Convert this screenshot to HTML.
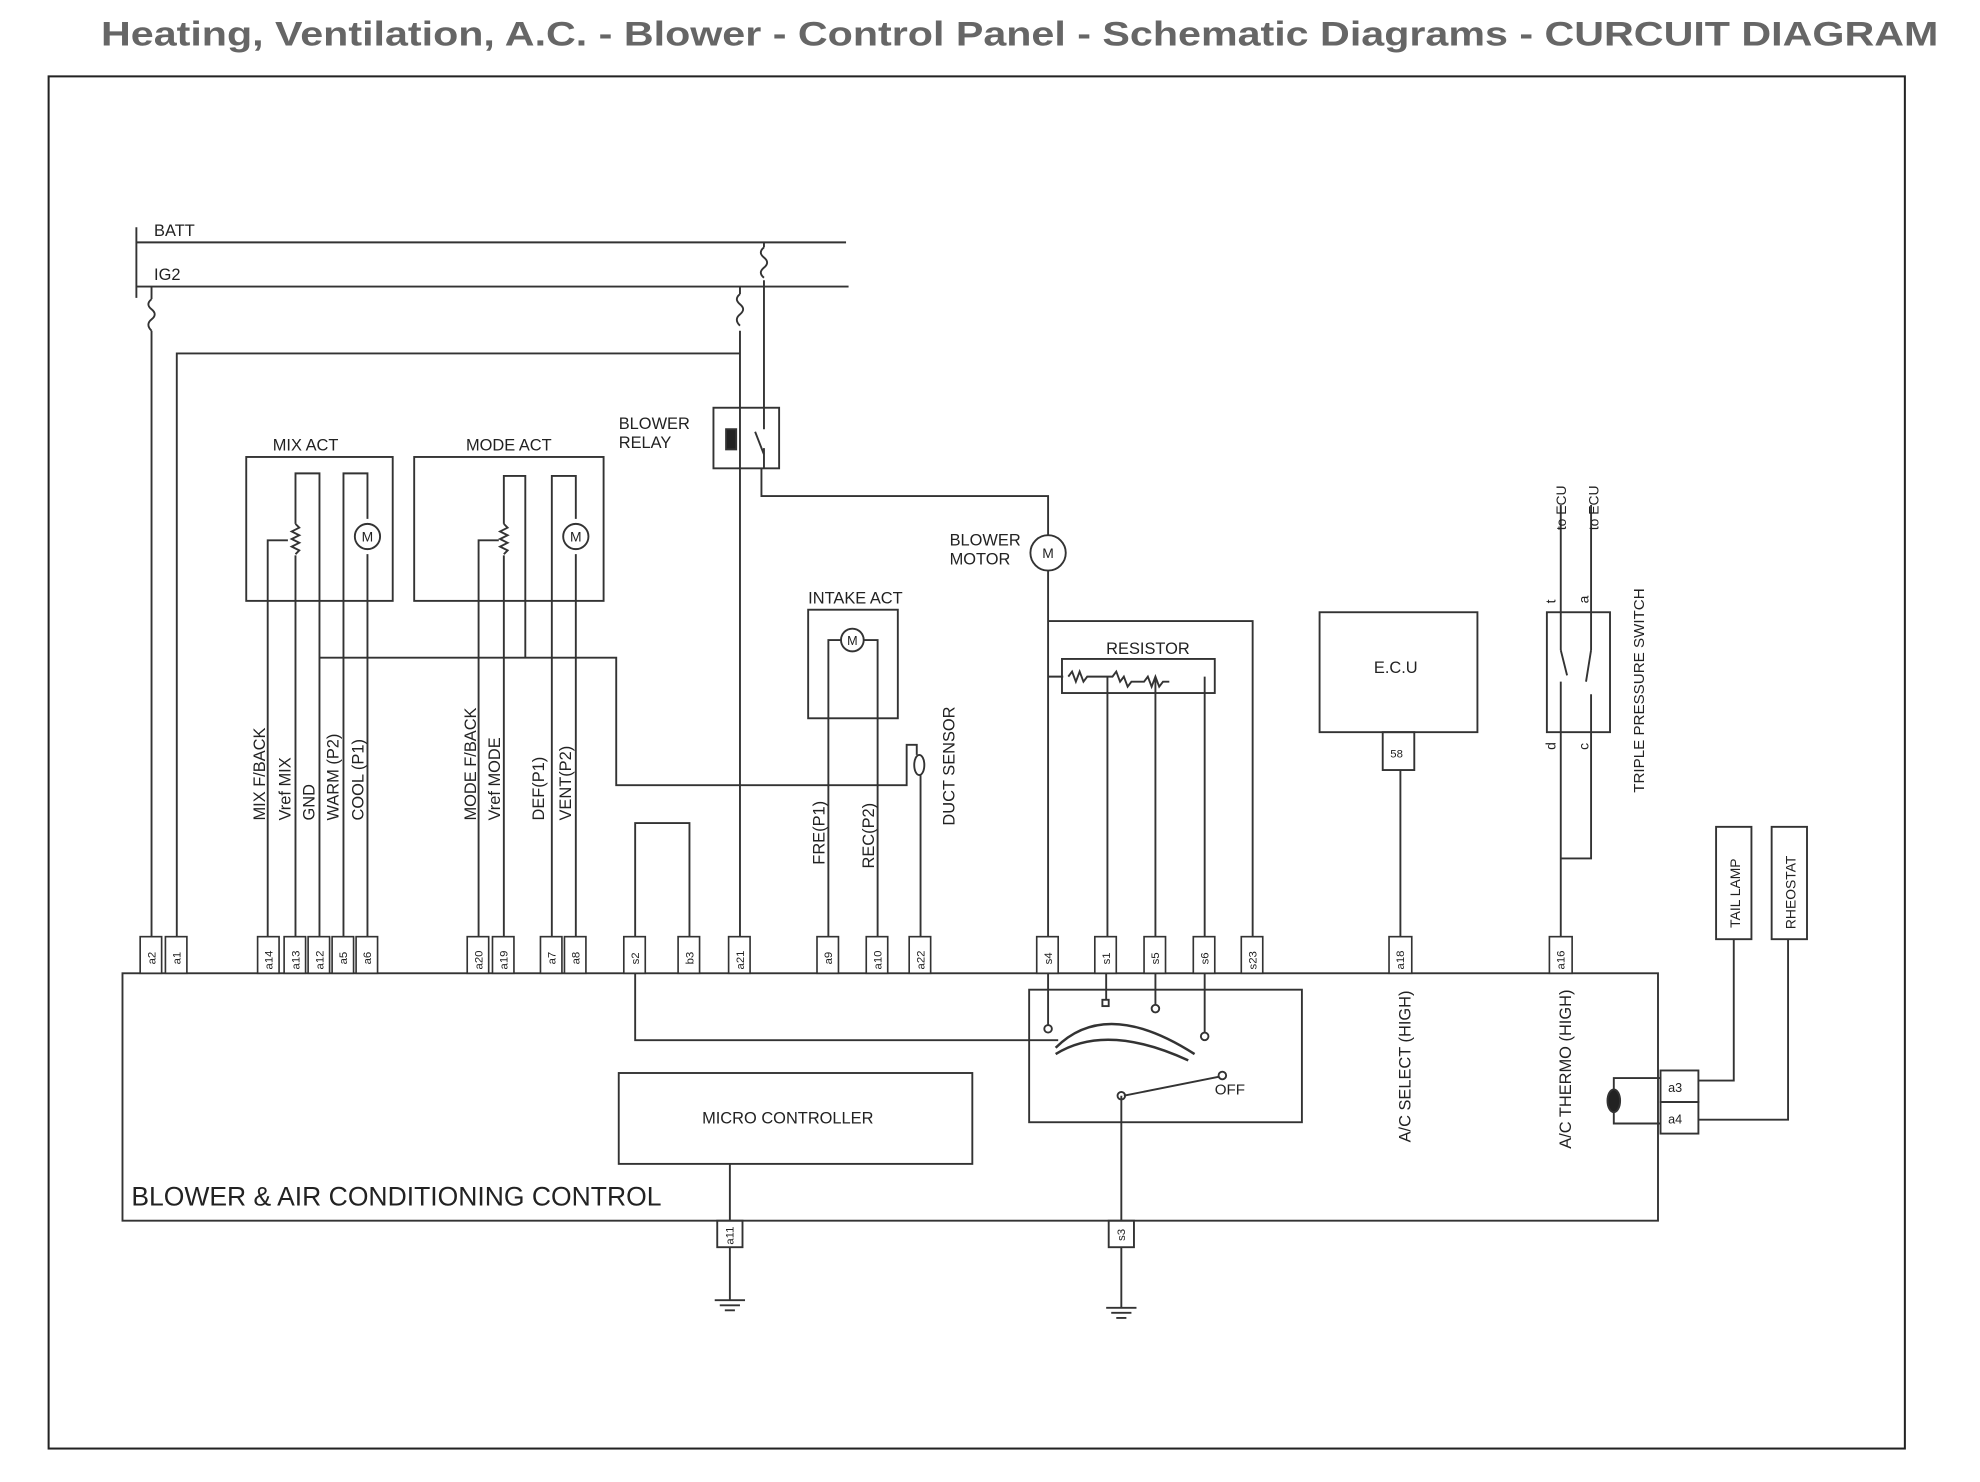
<!DOCTYPE html>
<html><head><meta charset="utf-8"><style>
html,body{margin:0;padding:0;background:#fff;}
svg{display:block}
text{font-family:"Liberation Sans",sans-serif;fill:#222}
</style></head><body>
<svg width="1980" height="1482" viewBox="0 0 1568 1174" preserveAspectRatio="none" xmlns="http://www.w3.org/2000/svg">
<text x="80" y="36" font-size="27" font-weight="bold" style="fill:#666" textLength="1455" lengthAdjust="spacingAndGlyphs">Heating, Ventilation, A.C. - Blower - Control Panel - Schematic Diagrams - CURCUIT DIAGRAM</text>
<rect x="38.5" y="60.5" width="1470" height="1087" fill="none" stroke="#222" stroke-width="1.6"/>
<g fill="none" stroke="#333" stroke-width="1.5">
<path d="M108 192H670M108 227H672M108 180V236"/>
<path d="M120 227V237M120 262V742M140 742V280H586"/>
<path d="M120 237q-5 4 0 8q5 4 0 8q-5 4 0 9"/>
<path d="M586 227V233M586 262V742"/>
<path d="M586 233q-5 4 0 8q5 4 0 8q-5 4 0 9"/>
<path d="M605 192V196M605 222V340M605 355V371"/>
<path d="M605 196q-5 4 0 8q5 4 0 8q-5 4 0 8"/>
<rect x="565" y="323" width="52" height="48"/>
<path d="M603 371V393H830V424M598 342L605 360"/>
<rect x="575" y="340" width="8" height="16" fill="#222"/>
<circle cx="830" cy="438" r="14"/>
<path d="M830 452V742M830 492H992V742M830 536H842"/>
<rect x="841" y="522" width="121" height="27"/>
<path d="M846 536l3-4l3 8l3-8l3 8l3-4h20l3-4l3 8l3-4l3 8l3-4h10l3-4l3 8l3-8l3 8l3-4h5"/>
<path d="M877 536V742M915 536V742M954 536V742"/>
<rect x="195" y="362" width="116" height="114"/>
<path d="M212 742V428H228M234 742V440M234 415V375H253V742M272 742V375H291V411M291 439V742"/>
<path d="M234 415l3 3l-6 3l6 3l-6 3l6 3l-6 3l6 3l-3 3"/>
<circle cx="291" cy="425" r="10"/>
<rect x="328" y="362" width="150" height="114"/>
<path d="M379 742V428H395M399 742V440M399 415V377H416V521M437 742V377H456V411M456 439V742"/>
<path d="M399 415l3 3l-6 3l6 3l-6 3l6 3l-6 3l6 3l-3 3"/>
<circle cx="456" cy="425" r="10"/>
<path d="M253 521H488V622H718V590H726V598M729 614V742"/>
<ellipse cx="728" cy="606" rx="4" ry="8"/>
<rect x="640" y="483" width="71" height="86"/>
<circle cx="675" cy="507" r="9"/>
<path d="M656 742V507H666M684 507H695V742"/>
<path d="M503 742V652H546V742"/>
<rect x="1045" y="485" width="125" height="95"/>
<rect x="1095" y="580" width="25" height="30"/>
<path d="M1109 610V742"/>
<rect x="1225" y="485" width="50" height="95"/>
<path d="M1236 400V515M1236 540V742M1260 400V515M1260 550V680H1236"/>
<path d="M1236 515l5 20M1260 515l-4 25"/>
<rect x="1359" y="655" width="28" height="89"/>
<rect x="1403" y="655" width="28" height="89"/>
<path d="M1373 744V856H1345M1416 744V887H1345"/>
<rect x="1315" y="848" width="30" height="25"/>
<rect x="1315" y="873" width="30" height="25"/>
<path d="M1315 854H1278V890H1315"/>
<ellipse cx="1278" cy="872" rx="5" ry="9" fill="#222"/>
<rect x="97" y="771" width="1216" height="196"/>
<rect x="490" y="850" width="280" height="72"/>
<path d="M578 922V967M578 988V1030M566 1030h24M570 1034h16M574 1038h8"/>
<rect x="568" y="967" width="20" height="21"/>
<rect x="815" y="784" width="216" height="105"/>
<path d="M503 771V824H838M830 771V812M876 771V792M915 771V796M954 771V818"/>
<path d="M888 868V967M888 988V1036M876 1036h24M880 1040h16M884 1044h8"/>
<rect x="878" y="967" width="20" height="21"/>
<path d="M836 830q40-40 110 5M836 835q40-25 105 5" stroke-width="2"/>
<path d="M890 868L965 853"/>
<circle cx="830" cy="815" r="3"/><rect x="873" y="792" width="5" height="5"/><circle cx="915" cy="799" r="3"/><circle cx="954" cy="821" r="3"/><circle cx="968" cy="852" r="3"/><circle cx="888" cy="868" r="3"/>
</g>
<g fill="#fff" stroke="#333" stroke-width="1.3">
<rect x="111" y="742" width="17" height="29"/><rect x="131" y="742" width="17" height="29"/>
<rect x="204" y="742" width="17" height="29"/><rect x="225" y="742" width="17" height="29"/><rect x="244" y="742" width="17" height="29"/><rect x="263" y="742" width="17" height="29"/><rect x="282" y="742" width="17" height="29"/>
<rect x="370" y="742" width="17" height="29"/><rect x="390" y="742" width="17" height="29"/><rect x="428" y="742" width="17" height="29"/><rect x="447" y="742" width="17" height="29"/>
<rect x="494" y="742" width="17" height="29"/><rect x="537" y="742" width="17" height="29"/><rect x="577" y="742" width="17" height="29"/>
<rect x="647" y="742" width="17" height="29"/><rect x="686" y="742" width="17" height="29"/><rect x="720" y="742" width="17" height="29"/>
<rect x="821" y="742" width="17" height="29"/><rect x="867" y="742" width="17" height="29"/><rect x="906" y="742" width="17" height="29"/><rect x="945" y="742" width="17" height="29"/><rect x="983" y="742" width="17" height="29"/>
<rect x="1100" y="742" width="18" height="29"/><rect x="1227" y="742" width="18" height="29"/>
</g>
<g font-size="9">
<g transform="rotate(-90)">
<text x="-764" y="123">a2</text><text x="-764" y="143">a1</text>
<text x="-768" y="216">a14</text><text x="-768" y="237">a13</text><text x="-768" y="256">a12</text><text x="-764" y="275">a5</text><text x="-764" y="294">a6</text>
<text x="-768" y="382">a20</text><text x="-768" y="402">a19</text><text x="-764" y="440">a7</text><text x="-764" y="459">a8</text>
<text x="-764" y="506">s2</text><text x="-764" y="549">b3</text><text x="-768" y="589">a21</text>
<text x="-764" y="659">a9</text><text x="-768" y="698">a10</text><text x="-768" y="732">a22</text>
<text x="-764" y="833">s4</text><text x="-764" y="879">s1</text><text x="-764" y="918">s5</text><text x="-764" y="957">s6</text><text x="-768" y="995">s23</text>
<text x="-768" y="1112">a18</text><text x="-768" y="1239">a16</text>
<text x="-986" y="581">a11</text><text x="-983" y="891">s3</text>
</g>
</g>
<g font-size="13">
<text x="122" y="187">BATT</text><text x="122" y="222">IG2</text>
<text x="490" y="340">BLOWER</text><text x="490" y="355">RELAY</text>
<text x="216" y="357">MIX ACT</text><text x="369" y="357">MODE ACT</text>
<text x="640" y="478">INTAKE ACT</text>
<text x="752" y="432">BLOWER</text><text x="752" y="447">MOTOR</text>
<text x="876" y="518">RESISTOR</text>
<text x="1088" y="533">E.C.U</text>
<text x="1101" y="600" font-size="9">58</text>
<text x="556" y="890" font-size="13">MICRO CONTROLLER</text>
<text x="962" y="867" font-size="12">OFF</text>
<text x="1321" y="865" font-size="10">a3</text><text x="1321" y="890" font-size="10">a4</text>
<text x="104" y="955" font-size="21">BLOWER &amp; AIR CONDITIONING CONTROL</text>
<g transform="rotate(-90)">
<text x="-650" y="210">MIX F/BACK</text><text x="-650" y="230">Vref MIX</text><text x="-650" y="249">GND</text><text x="-650" y="268">WARM (P2)</text><text x="-650" y="288">COOL (P1)</text>
<text x="-650" y="377">MODE F/BACK</text><text x="-650" y="396">Vref MODE</text><text x="-650" y="431">DEF(P1)</text><text x="-650" y="452">VENT(P2)</text>
<text x="-685" y="653">FRE(P1)</text><text x="-688" y="692">REC(P2)</text>
<text x="-654" y="756">DUCT SENSOR</text>
<text x="-905" y="1117">A/C SELECT (HIGH)</text>
<text x="-910" y="1244">A/C THERMO (HIGH)</text>
<text x="-628" y="1302" font-size="12">TRIPLE PRESSURE SWITCH</text>
<text x="-420" y="1240" font-size="11">to ECU</text><text x="-420" y="1266" font-size="11">to ECU</text>
<text x="-478" y="1232" font-size="11">t</text><text x="-478" y="1258" font-size="11">a</text>
<text x="-594" y="1232" font-size="11">d</text><text x="-594" y="1258" font-size="11">c</text>
<text x="-735" y="1378" font-size="11">TAIL LAMP</text><text x="-736" y="1422" font-size="11">RHEOSTAT</text>
</g>
</g>
<g font-size="11" text-anchor="middle">
<text x="830" y="442">M</text><text x="291" y="429">M</text><text x="456" y="429">M</text><text x="675" y="511" font-size="10">M</text>
</g>
</svg>
</body></html>
